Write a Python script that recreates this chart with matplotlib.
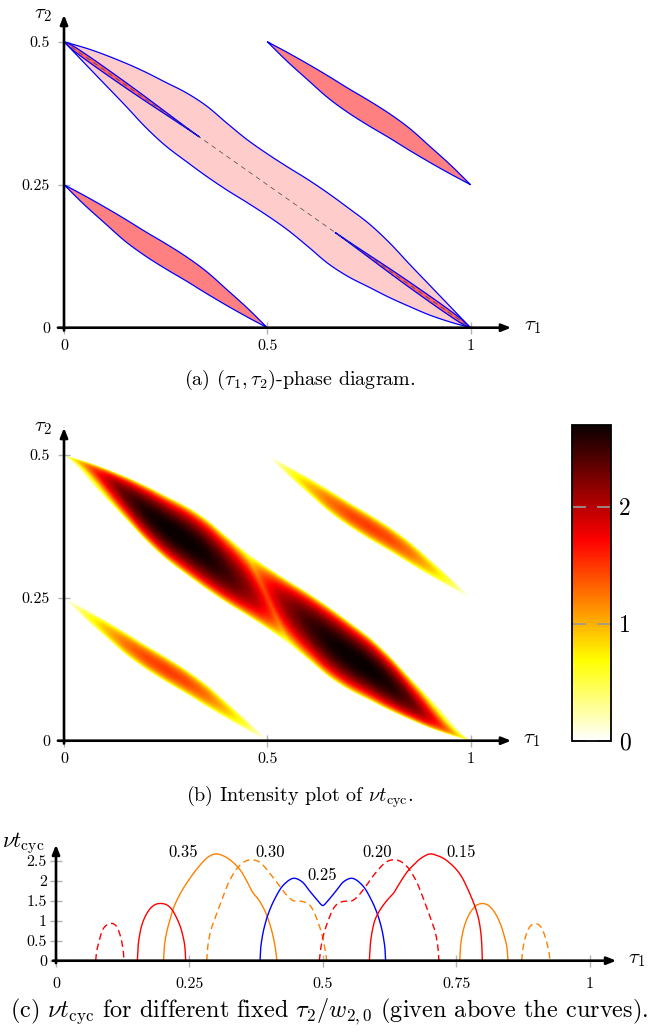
import numpy as np
import matplotlib
matplotlib.use("Agg")
import matplotlib.pyplot as plt
from matplotlib.patches import Polygon

plt.rcParams["font.family"] = ["cmr10", "DejaVu Serif"]
plt.rcParams["mathtext.fontset"] = "cm"
plt.rcParams["axes.unicode_minus"] = False
plt.rcParams["lines.scale_dashes"] = False

W, H = 659, 1032

# ---------------- phase-diagram geometry (tau1, tau2) ----------------
band_t1 = [0.0, 0.07, 0.15, 0.20, 0.25, 0.30, 0.35, 0.40, 0.45, 0.50,
           0.55, 0.60, 0.65, 0.70, 0.75, 0.80, 0.85, 0.90, 0.95, 1.0]
band_lower = [0.5, 0.448, 0.389, 0.351, 0.318, 0.291, 0.265, 0.241, 0.219, 0.196,
              0.171, 0.142, 0.112, 0.089, 0.071, 0.053, 0.037, 0.022, 0.010, 0.0]
band_upper = [0.5, 0.485, 0.463, 0.447, 0.429, 0.411, 0.388, 0.358, 0.329, 0.304,
              0.281, 0.259, 0.235, 0.209, 0.182, 0.149, 0.111, 0.074, 0.037, 0.0]

lens_t1 = [0.0, 0.05, 0.10, 0.15, 0.20, 0.25, 0.30, 0.35, 0.40, 0.45, 0.50]
lens_lower = [0.25, 0.215, 0.183, 0.1515, 0.1255, 0.103, 0.082, 0.060, 0.039, 0.019, 0.0]
lens_upper = [0.25, 0.231, 0.211, 0.190, 0.168, 0.147, 0.1245, 0.0985, 0.067, 0.035, 0.0]
lens_offsets = [(0.0, 0.0), (0.5, 0.25)]

thin_t1 = [0.0, 0.02, 0.05, 0.09, 0.13, 0.17, 0.21, 0.25, 0.29, 0.3333]
thin_halfwidth = [0.0, 0.0035, 0.0048, 0.0052, 0.0050, 0.0045, 0.0035, 0.0022, 0.0010, 0.0]

# ---------------- intensity profiles along the regions ----------------
band_prof_s = [0.0, 0.05, 0.10, 0.15, 0.20, 0.25, 0.30, 0.35, 0.40, 0.45, 0.48, 0.50,
               0.52, 0.55, 0.60, 0.65, 0.70, 0.75, 0.80, 0.85, 0.90, 0.95, 1.0]
band_prof_v = [0.0, 0.85, 1.75, 2.35, 2.62, 2.72, 2.72, 2.66, 2.48, 2.15, 1.80, 1.42,
               1.80, 2.15, 2.48, 2.66, 2.72, 2.72, 2.62, 2.35, 1.75, 0.85, 0.0]
lens_prof_s = [0.0, 0.05, 0.10, 0.15, 0.20, 0.25, 0.30, 0.35, 0.40, 0.45, 0.50]
lens_prof_v = [0.0, 0.50, 0.93, 1.25, 1.43, 1.48, 1.43, 1.25, 0.93, 0.50, 0.0]

# ---------------- slices nu*t_cyc at fixed tau2 ----------------
c35_band_t1 = [0.2014, 0.2030, 0.2050, 0.2080, 0.2120, 0.2200, 0.2330, 0.2510, 0.2700, 0.2860,
               0.2996, 0.3140, 0.3300, 0.3450, 0.3580, 0.3680, 0.3800, 0.3920, 0.4015, 0.4070,
               0.4110, 0.4140]
c35_band_v = [0.00, 0.35, 0.55, 0.75, 0.95, 1.31, 1.68, 2.06, 2.39, 2.60,
              2.67, 2.62, 2.48, 2.27, 1.98, 1.72, 1.52, 1.23, 0.88, 0.60,
              0.32, 0.00]
c35_lens_t1 = [0.7566, 0.7580, 0.7600, 0.7650, 0.7720, 0.7820, 0.7900, 0.7990, 0.8080, 0.8170,
               0.8260, 0.8340, 0.8400, 0.8445, 0.8472]
c35_lens_v = [0.00, 0.35, 0.55, 0.85, 1.10, 1.31, 1.40, 1.43, 1.40, 1.30,
              1.12, 0.88, 0.62, 0.38, 0.00]

c30_band_t1 = [0.2824, 0.2840, 0.2860, 0.2890, 0.2940, 0.2990, 0.3100, 0.3260, 0.3420, 0.3570,
               0.3700, 0.3820, 0.4010, 0.4200, 0.4350, 0.4450, 0.4550, 0.4650, 0.4760, 0.4840,
               0.4900, 0.4980, 0.5040, 0.5074]
c30_band_v = [0.00, 0.30, 0.50, 0.70, 0.92, 1.10, 1.50, 2.02, 2.35, 2.50,
              2.52, 2.46, 2.18, 1.85, 1.60, 1.50, 1.49, 1.47, 1.38, 1.20,
              1.00, 0.68, 0.30, 0.00]
c30_lens_t1 = [0.8727, 0.8738, 0.8760, 0.8795, 0.8840, 0.8900, 0.8960, 0.9030, 0.9090, 0.9140,
               0.9180, 0.9215, 0.9243, 0.9258]
c30_lens_v = [0.00, 0.18, 0.38, 0.58, 0.76, 0.88, 0.92, 0.91, 0.84, 0.70,
              0.54, 0.36, 0.18, 0.00]

c25_band_t1 = [0.3824, 0.3835, 0.3860, 0.3900, 0.3980, 0.4105, 0.4261, 0.4449, 0.4605, 0.4761,
               0.4917, 0.5000, 0.5083, 0.5239, 0.5395, 0.5551, 0.5739, 0.5895, 0.6020, 0.6100,
               0.6140, 0.6165, 0.6176]
c25_band_v = [0.00, 0.30, 0.55, 0.82, 1.18, 1.56, 1.89, 2.06, 1.98, 1.73,
              1.48, 1.38, 1.48, 1.73, 1.98, 2.06, 1.89, 1.56, 1.18, 0.82,
              0.55, 0.30, 0.00]

c20_band_t1 = [0.4935, 0.4960, 0.5020, 0.5100, 0.5160, 0.5240, 0.5350, 0.5450, 0.5550, 0.5650,
               0.5800, 0.5980, 0.6180, 0.6300, 0.6430, 0.6580, 0.6740, 0.6900, 0.7010, 0.7060,
               0.7110, 0.7140, 0.7160, 0.7176]
c20_band_v = [0.00, 0.30, 0.68, 1.00, 1.20, 1.38, 1.47, 1.49, 1.50, 1.60,
              1.85, 2.18, 2.46, 2.52, 2.50, 2.35, 2.02, 1.50, 1.10, 0.92,
              0.70, 0.50, 0.30, 0.00]
c20_lens_t1 = [0.0744, 0.0755, 0.0781, 0.0820, 0.0856, 0.0920, 0.0990, 0.1060, 0.1120, 0.1170,
               0.1210, 0.1240, 0.1262, 0.1274]
c20_lens_v = [0.00, 0.18, 0.35, 0.55, 0.72, 0.86, 0.92, 0.93, 0.88, 0.76,
              0.60, 0.42, 0.22, 0.00]

c15_band_t1 = [0.5872, 0.5885, 0.5900, 0.5935, 0.5978, 0.6050, 0.6134, 0.6230, 0.6322, 0.6400,
               0.6478, 0.6580, 0.6697, 0.6850, 0.7010, 0.7140, 0.7260, 0.7390, 0.7510, 0.7610,
               0.7697, 0.7780, 0.7853, 0.7910, 0.7947, 0.7975, 0.7990]
c15_band_v = [0.00, 0.30, 0.52, 0.80, 1.02, 1.22, 1.39, 1.55, 1.68, 1.85,
              2.02, 2.22, 2.39, 2.57, 2.67, 2.63, 2.56, 2.43, 2.27, 2.08,
              1.85, 1.60, 1.35, 1.10, 0.85, 0.50, 0.00]
c15_lens_t1 = [0.1524, 0.1538, 0.1556, 0.1600, 0.1670, 0.1770, 0.1870, 0.1975, 0.2070, 0.2160,
               0.2250, 0.2330, 0.2385, 0.2415, 0.2430]
c15_lens_v = [0.00, 0.35, 0.55, 0.85, 1.10, 1.31, 1.41, 1.43, 1.40, 1.30,
              1.10, 0.85, 0.58, 0.35, 0.00]

slice_labels = ["0.35", "0.30", "0.25", "0.20", "0.15"]
slice_label_t1 = [0.239, 0.401, 0.498, 0.601, 0.760]
slice_label_v = [2.72, 2.72, 2.14, 2.72, 2.72]

x_ticks_ab = [0, 0.5, 1]
x_ticklabels_ab = ["0", "0.5", "1"]
y_ticks_ab = [0, 0.25, 0.5]
y_ticklabels_ab = ["0", "0.25", "0.5"]
x_ticks_c = [0, 0.25, 0.5, 0.75, 1]
x_ticklabels_c = ["0", "0.25", "0.5", "0.75", "1"]
y_ticks_c = [0, 0.5, 1, 1.5, 2, 2.5]
y_ticklabels_c = ["0", "0.5", "1", "1.5", "2", "2.5"]
cbar_ticks = [0, 1, 2]
cbar_max = 2.7

BLUE = "#0000ff"
ORANGE = "#ff8000"
RED = "#ff0000"
PINK = "#ffcccc"
SALMON = "#ff8080"
TICKGRAY = "#b3b3b3"


def smooth(x, y, sx=1.0, sy=1.0, n=16):
    """Centripetal Catmull-Rom curve through the given points."""
    P = np.column_stack([np.asarray(x, float) * sx, np.asarray(y, float) * sy])
    P = np.vstack([2 * P[0] - P[1], P, 2 * P[-1] - P[-2]])
    out = []
    for i in range(1, len(P) - 2):
        p0, p1, p2, p3 = P[i - 1], P[i], P[i + 1], P[i + 2]
        t0 = 0.0
        t1 = t0 + max(np.linalg.norm(p1 - p0), 1e-9) ** 0.5
        t2 = t1 + max(np.linalg.norm(p2 - p1), 1e-9) ** 0.5
        t3 = t2 + max(np.linalg.norm(p3 - p2), 1e-9) ** 0.5
        t = np.linspace(t1, t2, n, endpoint=False)[:, None]
        a1 = (t1 - t) / (t1 - t0) * p0 + (t - t0) / (t1 - t0) * p1
        a2 = (t2 - t) / (t2 - t1) * p1 + (t - t1) / (t2 - t1) * p2
        a3 = (t3 - t) / (t3 - t2) * p2 + (t - t2) / (t3 - t2) * p3
        b1 = (t2 - t) / (t2 - t0) * a1 + (t - t0) / (t2 - t0) * a2
        b2 = (t3 - t) / (t3 - t1) * a2 + (t - t1) / (t3 - t1) * a3
        out.append((t2 - t) / (t2 - t1) * b1 + (t - t1) / (t2 - t1) * b2)
    out.append(P[-2][None, :])
    Q = np.vstack(out)
    return Q[:, 0] / sx, Q[:, 1] / sy


def smooth_fn(x, y, sx, sy):
    """Smoothed boundary, resampled as a monotone function of tau1."""
    xs, ys = smooth(x, y, sx, sy)
    xs = np.maximum.accumulate(xs)
    grid = np.linspace(x[0], x[-1], 600)
    return grid, np.interp(grid, xs, ys)


SX, SY = 406.5, 572.0
bx, bup = smooth_fn(band_t1, band_upper, SX, SY)
_, blo = smooth_fn(band_t1, band_lower, SX, SY)
lx, lup = smooth_fn(lens_t1, lens_upper, SX, SY)
_, llo = smooth_fn(lens_t1, lens_lower, SX, SY)
tx, thw = smooth_fn(thin_t1, thin_halfwidth, SX, SY)
thw = np.clip(thw, 0, None)

fig = plt.figure(figsize=(W / 100, H / 100), dpi=100)


def axes_px(x0, sx, y0, sy, xlim, ylim):
    left = x0 + xlim[0] * sx
    right = x0 + xlim[1] * sx
    bot = y0 - ylim[0] * sy
    top = y0 - ylim[1] * sy
    ax = fig.add_axes([left / W, 1 - bot / H, (right - left) / W, (bot - top) / H])
    ax.set_xlim(*xlim)
    ax.set_ylim(*ylim)
    ax.patch.set_alpha(0)
    return ax


def axis_arrows(ax, xs, xe, ys, ye):
    style = "-|>,head_length=0.55,head_width=0.22"
    for a, b in (((xs, 0), (xe, 0)), ((0, ys), (0, ye))):
        ax.annotate("", xy=b, xytext=a, xycoords="data",
                    arrowprops=dict(arrowstyle=style, lw=1.9, color="k",
                                    shrinkA=0, shrinkB=0, mutation_scale=10),
                    annotation_clip=False, zorder=6)


def style_axes(ax, xt, xtl, yt, ytl, fs, xpad, ypad):
    for s in ("top", "right"):
        ax.spines[s].set_visible(False)
    for s in ("bottom", "left"):
        ax.spines[s].set_position(("data", 0))
        ax.spines[s].set_visible(False)
    ax.set_xticks(xt)
    ax.set_xticklabels(xtl)
    ax.set_yticks(yt)
    ax.set_yticklabels(ytl)
    ax.tick_params(axis="both", direction="inout", length=8, width=1.0,
                   color=TICKGRAY, labelsize=fs)
    ax.tick_params(axis="x", pad=xpad)
    ax.tick_params(axis="y", pad=ypad)


def ftext(x, y, s, **kw):
    fig.text(x / W, 1 - y / H, s, **kw)


# ====================== (a) phase diagram ======================
axa = axes_px(64, SX, 327.7, SY, (-0.04, 1.14), (-0.03, 0.56))
style_axes(axa, x_ticks_ab, x_ticklabels_ab, y_ticks_ab, y_ticklabels_ab, 11.5, 4.5, 6)

band_poly = np.vstack([np.column_stack([bx, bup]),
                       np.column_stack([bx[::-1], blo[::-1]])])
axa.add_patch(Polygon(band_poly, closed=True, facecolor=PINK, edgecolor=BLUE, lw=0.9, zorder=2))

for dx, dy in lens_offsets:
    poly = np.vstack([np.column_stack([lx + dx, lup + dy]),
                      np.column_stack([lx[::-1] + dx, llo[::-1] + dy])])
    axa.add_patch(Polygon(poly, closed=True, facecolor=SALMON, edgecolor=BLUE, lw=0.9, zorder=3))

mid = 0.5 - 0.5 * tx
thin_poly = np.vstack([np.column_stack([tx, mid + thw]),
                       np.column_stack([tx[::-1], (mid - thw)[::-1]])])
for poly in (thin_poly, np.column_stack([1 - thin_poly[:, 0], 0.5 - thin_poly[:, 1]])):
    axa.add_patch(Polygon(poly, closed=True, facecolor="#ff6060", edgecolor=BLUE, lw=0.9, zorder=4))

axa.plot([0, 1], [0.5, 0], color="#444444", lw=0.5, dashes=(3.5, 3.0), zorder=5)
axis_arrows(axa, -0.015, 1.10, -0.005, 0.547)
ftext(533, 327, r"$\tau_1$", fontsize=15, ha="center", va="center")
ftext(43, 15, r"$\tau_2$", fontsize=15, ha="center", va="center")
ftext(300, 380, r"(a) $(\tau_1, \tau_2)$-phase diagram.", fontsize=14.5, ha="center", va="center")

# ====================== (b) intensity plot ======================
axb = axes_px(64, SX, 740.7, SY, (-0.04, 1.14), (-0.03, 0.56))
style_axes(axb, x_ticks_ab, x_ticklabels_ab, y_ticks_ab, y_ticklabels_ab, 11.5, 4.5, 6)

g1 = np.linspace(0, 1, 1001)
g2 = np.linspace(0, 0.5, 601)
T1, T2 = np.meshgrid(g1, g2)


def region_intensity(T1, T2, xs, lo, up, ps, pv, k=0.0, p=0.5):
    lo_v = np.interp(T1, xs, lo)
    up_v = np.interp(T1, xs, up)
    c = 0.5 * (lo_v + up_v)
    hw = 0.5 * (up_v - lo_v)
    ok = (hw > 1e-9) & (T1 >= xs[0]) & (T1 <= xs[-1])
    u = np.where(ok, (T2 - c) / np.where(hw > 1e-9, hw, 1.0), 2.0)
    g = np.clip(1 - u ** 2, 0, None) ** p
    s = T1 + k * np.clip(u, -1, 1)
    return np.interp(s, ps, pv) * g


field = region_intensity(T1, T2, bx, blo, bup, band_prof_s, band_prof_v, k=0.05)
for dx, dy in lens_offsets:
    field += region_intensity(T1 - dx, T2 - dy, lx, llo, lup, lens_prof_s, lens_prof_v)

im = axb.imshow(field, origin="lower", extent=[0, 1, 0, 0.5], cmap="hot_r",
                vmin=0, vmax=cbar_max, interpolation="bilinear", aspect="auto", zorder=1)
axis_arrows(axb, -0.015, 1.10, -0.005, 0.547)
ftext(532, 740, r"$\tau_1$", fontsize=15, ha="center", va="center")
ftext(43, 428, r"$\tau_2$", fontsize=15, ha="center", va="center")

cax = fig.add_axes([571.7 / W, 1 - 740.7 / H, (611 - 571.7) / W, (740.7 - 425) / H])
cb = fig.colorbar(im, cax=cax, ticks=cbar_ticks)
cb.ax.set_yticklabels([str(t) for t in cbar_ticks])
cb.outline.set_linewidth(1.3)
cax.tick_params(direction="in", length=10, width=1.2, color="#999999",
                left=True, right=True, labelsize=17, pad=6)
ftext(300, 797, r"(b) Intensity plot of $\nu t_{\mathrm{cyc}}$.", fontsize=14.5,
      ha="center", va="center")

# ====================== (c) slices ======================
axc = axes_px(56, 533.6, 960.7, 40, (-0.03, 1.08), (-0.15, 3.0))
style_axes(axc, x_ticks_c, x_ticklabels_c, y_ticks_c, y_ticklabels_c, 11.5, 8, 2.5)

solid = dict(lw=1.0, solid_capstyle="butt")
dashed = dict(lw=1.0, dashes=(4.8, 2.9))
curves = [
    (c35_band_t1, c35_band_v, ORANGE, solid),
    (c35_lens_t1, c35_lens_v, ORANGE, solid),
    (c30_band_t1, c30_band_v, ORANGE, dashed),
    (c30_lens_t1, c30_lens_v, ORANGE, dashed),
    (c25_band_t1, c25_band_v, BLUE, solid),
    (c20_band_t1, c20_band_v, RED, dashed),
    (c20_lens_t1, c20_lens_v, RED, dashed),
    (c15_band_t1, c15_band_v, RED, solid),
    (c15_lens_t1, c15_lens_v, RED, solid),
]
for xs_, vs_, col, sty in curves:
    sx_, sv_ = smooth(xs_, vs_, 533.6, 40.0)
    axc.plot(sx_, np.clip(sv_, 0, None), color=col, **sty)

for lab, x, y in zip(slice_labels, slice_label_t1, slice_label_v):
    axc.text(x, y, lab, fontsize=12, ha="center", va="center")

axis_arrows(axc, -0.006, 1.05, -0.06, 2.9)
ftext(637, 960, r"$\tau_1$", fontsize=15, ha="center", va="center")
ftext(45, 843, r"$\nu t_{\mathrm{cyc}}$", fontsize=16, ha="right", va="center")
ftext(329, 1012, r"(c) $\nu t_{\mathrm{cyc}}$ for different fixed $\tau_2/w_{2,0}$ (given above the curves).",
      fontsize=17.5, ha="center", va="center")

fig.savefig("out.png", dpi=100)
